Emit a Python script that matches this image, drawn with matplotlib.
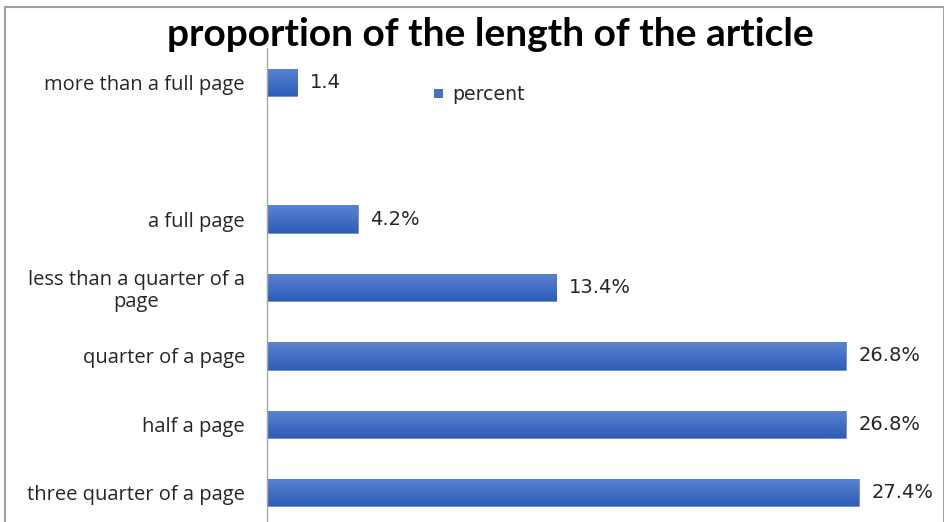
import numpy as np
import matplotlib
matplotlib.use("Agg")
import matplotlib.pyplot as plt
from matplotlib.patches import Rectangle
from matplotlib.colors import LinearSegmentedColormap

# Categories listed bottom to top; the blank entry leaves an empty slot
categories = [
    "three quarter of a page",
    "half a page",
    "quarter of a page",
    "less than a quarter of a\npage",
    "a full page",
    "",
    "more than a full page",
]
values = [27.4, 26.8, 26.8, 13.4, 4.2, np.nan, 1.4]
suffixes = ["%", "%", "%", "%", "%", "", ""]
series_name = "percent"
title = "proportion of the length of the article"

W, H = 945, 522
fig = plt.figure(figsize=(W / 100, H / 100), dpi=100)

# outer chart frame
fig.patches.append(Rectangle((5 / W, -0.05), (944 - 5) / W, (H - 7) / H + 0.05,
                             transform=fig.transFigure, fill=False,
                             edgecolor="#a0a0a0", linewidth=1.5))

ax_left, ax_right = 267, 940
ax_top, ax_bottom = 48, 527
ax = fig.add_axes([ax_left / W, (H - ax_bottom) / H,
                   (ax_right - ax_left) / W, (ax_bottom - ax_top) / H])

ypos = np.arange(len(categories))
vals = np.array(values, dtype=float)
bars = ax.barh(ypos, np.nan_to_num(vals), height=0.4, color="#4472c4",
               edgecolor="#6a8fd6", linewidth=0.6, zorder=2)

# vertical gradient fill for each bar
grad = LinearSegmentedColormap.from_list("bar_grad", ["#2e5db8", "#5a83d0"])
gimg = np.linspace(0, 1, 64).reshape(-1, 1)
for b, v in zip(bars, vals):
    if np.isnan(v):
        continue
    x0, y0 = b.get_x(), b.get_y()
    im = ax.imshow(gimg, cmap=grad, aspect="auto", origin="lower",
                   extent=[x0, x0 + b.get_width(), y0, y0 + b.get_height()],
                   zorder=2.5, interpolation="bicubic")
    im.set_clip_path(b)

# value labels
for y, v, s in zip(ypos, vals, suffixes):
    if np.isnan(v):
        continue
    ax.annotate(f"{v:.1f}{s}", (v, y), xytext=(9, 0), textcoords="offset points",
                va="center", ha="left", fontsize=14, color="#262626",
                family="DejaVu Sans")

px_per_unit = 21.6
ax.set_xlim(0, (ax_right - ax_left) / px_per_unit)
ax.set_ylim(-0.5, len(categories) - 0.5)
ax.set_yticks(ypos)
ax.set_yticklabels(categories, fontsize=14.5, color="#262626",
                   family="Open Sans", multialignment="center", linespacing=1.15)
ax.tick_params(axis="y", length=0, pad=16)
ax.set_xticks([])
for side in ("top", "right", "bottom"):
    ax.spines[side].set_visible(False)
ax.spines["left"].set_color("#a6a6a6")
ax.spines["left"].set_linewidth(1.0)
ax.patch.set_alpha(0)

# legend entry
fig.patches.append(Rectangle((434 / W, 1 - 98 / H), 9 / W, 9 / H,
                             transform=fig.transFigure, facecolor="#4472c4",
                             edgecolor="none"))
fig.text(452 / W, 1 - 94 / H, series_name, fontsize=13.6, color="#262626",
         family="DejaVu Sans", va="center", ha="left")

fig.text(490 / W, 1 - 35 / H, title, fontsize=28, fontweight="bold",
         family="Lato", color="#000000", ha="center", va="center")

fig.savefig("out.png", dpi=100)
